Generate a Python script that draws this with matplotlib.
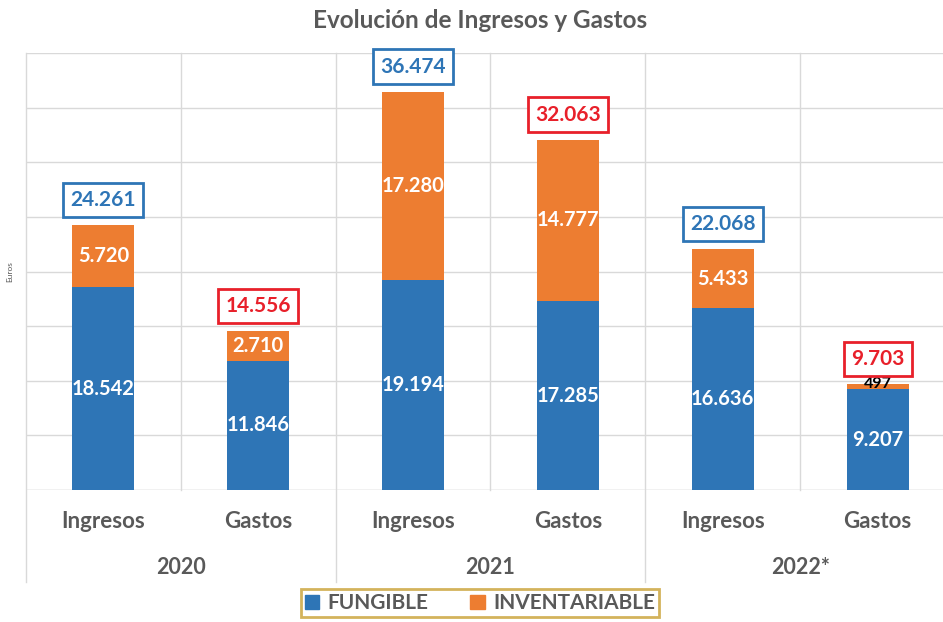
import matplotlib.pyplot as plt
from matplotlib.patches import Patch
from matplotlib.transforms import blended_transform_factory

plt.rcParams['font.family'] = ['Lato', 'DejaVu Sans']

# Datos
years = ['2020', '2021', '2022*']
cats = ['Ingresos', 'Gastos', 'Ingresos', 'Gastos', 'Ingresos', 'Gastos']
fungible = [18542, 11846, 19194, 17285, 16636, 9207]
inventariable = [5720, 2710, 17280, 14777, 5433, 497]
totals = [24261, 14556, 36474, 32063, 22068, 9703]

blue = '#2E75B6'
orange = '#ED7D31'
red = '#E8202A'
gray = '#595959'


def fmt(v):
    return f'{v:,}'.replace(',', '.')


fig = plt.figure(figsize=(9.43, 6.22), dpi=100)
ax = fig.add_axes([26 / 943, 1 - 490 / 622, 929 / 943, (490 - 53) / 622])

x = list(range(len(cats)))
ax.bar(x, fungible, width=0.4, color=blue, zorder=3)
ax.bar(x, inventariable, width=0.4, bottom=fungible, color=orange, zorder=3)

ax.set_xlim(-0.5, 5.5)
ax.set_ylim(0, 40000)
ax.set_yticks(range(0, 40001, 5000))
ax.set_yticklabels([])
ax.tick_params(length=0)
ax.grid(axis='y', color='#D9D9D9', lw=1, zorder=0)
for s in ax.spines.values():
    s.set_visible(False)
ax.axhline(0, color='#D9D9D9', lw=1, zorder=1)

# lineas verticales
tr = blended_transform_factory(ax.transData, ax.transAxes)
for i in range(7):
    xv = i - 0.5
    if i % 2 == 0:
        ax.plot([xv, xv], [-0.21, 1], transform=tr, color='#D9D9D9', lw=1, clip_on=False, zorder=0)
    else:
        ax.plot([xv, xv], [0, 1], transform=tr, color='#D9D9D9', lw=1, clip_on=False, zorder=0)

ax.set_xticks(x)
ax.set_xticklabels(cats, fontsize=16, fontweight='bold', color=gray)
ax.tick_params(axis='x', pad=15)
for i, y in enumerate(years):
    ax.text(2 * i + 0.5, -0.178, y, transform=tr, ha='center', va='center',
            fontsize=15.5, fontweight='bold', color=gray)

# etiquetas de segmentos
for i in x:
    ax.text(i, fungible[i] / 2, fmt(fungible[i]), ha='center', va='center',
            color='white', fontsize=14.5, fontweight='bold', zorder=4)
    if inventariable[i] > 2000:
        ax.text(i, fungible[i] + inventariable[i] / 2, fmt(inventariable[i]), ha='center',
                va='center', color='white', fontsize=14.5, fontweight='bold', zorder=4)
    else:
        ax.text(i, fungible[i] + inventariable[i], fmt(inventariable[i]), ha='center',
                va='center', color='black', fontsize=11.5, fontweight='bold', zorder=4)

# totales con recuadro
for i in x:
    c = blue if i % 2 == 0 else red
    ax.annotate(fmt(totals[i]), (i, fungible[i] + inventariable[i]), xytext=(0, 18),
                textcoords='offset points', ha='center', va='center',
                color=c, fontsize=15, fontweight='bold', zorder=5,
                bbox=dict(boxstyle='square,pad=0.35', fc='white', ec=c, lw=2))

ax.set_ylabel('Euros', fontsize=6, color=gray, labelpad=6)

fig.text(480 / 943, 1 - 21 / 622, 'Evolución de Ingresos y Gastos', ha='center', va='center',
         fontsize=17.5, fontweight='bold', color=gray)

handles = [Patch(color=blue, label='FUNGIBLE'), Patch(color=orange, label='INVENTARIABLE')]
leg = fig.legend(handles=handles, loc='upper center', bbox_to_anchor=(480 / 943, 1 - 589 / 622),
                 ncol=2, frameon=True, fancybox=False, handlelength=0.7, handleheight=0.7,
                 handletextpad=0.4, columnspacing=2.0, borderpad=0.2, borderaxespad=0,
                 prop={'size': 15, 'weight': 'bold'})
leg.get_frame().set_edgecolor('#C9A033')
leg.get_frame().set_linewidth(2)
for t in leg.get_texts():
    t.set_color(gray)

fig.savefig('out.png', dpi=100)
